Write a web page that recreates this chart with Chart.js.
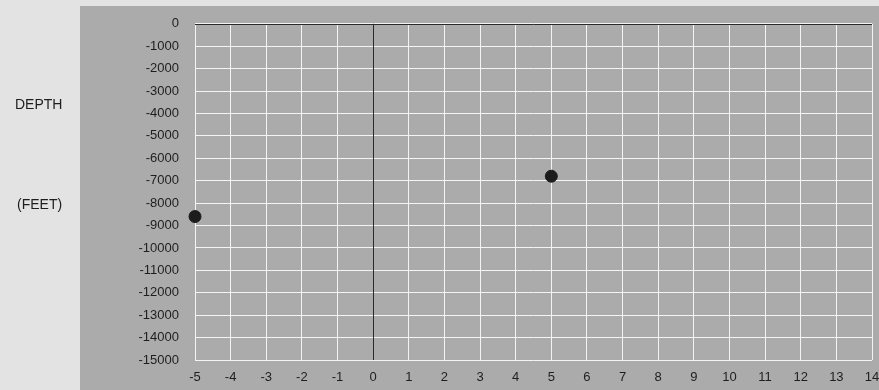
<!DOCTYPE html>
<html><head><meta charset="utf-8">
<script src="https://cdn.jsdelivr.net/npm/chart.js@4"></script>
<style>
html,body{margin:0;padding:0;background:#e3e3e3;}
#wrap{position:relative;width:879px;height:390px;}
canvas{position:absolute;left:0;top:0;}
.lab{position:absolute;font:14px "Liberation Sans",Arial,sans-serif;color:#1e1e1e;}
</style></head>
<body>
<div id="wrap">
<canvas id="c" width="879" height="390"></canvas>
<div class="lab" style="left:15px;top:96px;">DEPTH</div>
<div class="lab" style="left:17px;top:196px;">(FEET)</div>
</div>
<script>
const xValues = [-5, 5];
const depthValues = [-8600, -6800];
const xTickValues = [-5,-4,-3,-2,-1,0,1,2,3,4,5,6,7,8,9,10,11,12,13,14];
const yTickValues = [0,-1000,-2000,-3000,-4000,-5000,-6000,-7000,-8000,-9000,-10000,-11000,-12000,-13000,-14000,-15000];

const panelPlugin = {
  id: 'panel',
  beforeDraw(chart) {
    const ctx = chart.ctx;
    ctx.save();
    ctx.fillStyle = '#e3e3e3';
    ctx.fillRect(0, 0, chart.width, chart.height);
    ctx.fillStyle = '#ababab';
    ctx.fillRect(80, 6, chart.width - 80, chart.height - 6);
    ctx.restore();
  },
  beforeDatasetsDraw(chart) {
    const ctx = chart.ctx, a = chart.chartArea;
    const x0 = Math.round(chart.scales.x.getPixelForValue(0)) + 0.5;
    const y0 = Math.round(chart.scales.y.getPixelForValue(0)) + 0.5;
    ctx.save();
    ctx.strokeStyle = '#2a2a2a';
    ctx.lineWidth = 1;
    ctx.beginPath();
    ctx.moveTo(x0, a.top); ctx.lineTo(x0, a.bottom);
    ctx.moveTo(a.left, y0); ctx.lineTo(a.right, y0);
    ctx.stroke();
    ctx.restore();
  }
};

const gridOpts = { drawTicks: false, lineWidth: 1, color: '#f4f4f4' };

new Chart(document.getElementById('c'), {
  type: 'scatter',
  data: {
    datasets: [{
      data: xValues.map((x, i) => ({x: x, y: depthValues[i]})),
      backgroundColor: '#1c1c1c',
      borderColor: '#1c1c1c',
      pointRadius: 6,
      pointHoverRadius: 6,
      clip: false
    }]
  },
  plugins: [panelPlugin],
  options: {
    responsive: false,
    animation: false,
    events: [],
    layout: { padding: { left: 0, top: 20, right: 3, bottom: 0 } },
    plugins: { legend: { display: false }, tooltip: { enabled: false } },
    scales: {
      x: {
        type: 'linear', min: -5, max: 14,
        afterBuildTicks: s => { s.ticks = xTickValues.map(v => ({value: v})); },
        afterFit: s => { s.height = 30; s.paddingLeft = 0; s.paddingRight = 0; },
        border: { display: false },
        grid: gridOpts,
        ticks: {
          padding: 10, maxRotation: 0, autoSkip: false,
          color: '#1e1e1e', font: { family: '"Liberation Sans", Arial, sans-serif', size: 13 },
          callback: v => String(v)
        }
      },
      y: {
        type: 'linear', min: -15000, max: 0,
        afterBuildTicks: s => { s.ticks = yTickValues.map(v => ({value: v})); },
        afterFit: s => { s.width = 195; },
        border: { display: false },
        grid: gridOpts,
        ticks: {
          padding: 16, autoSkip: false,
          color: '#1e1e1e', font: { family: '"Liberation Sans", Arial, sans-serif', size: 13 },
          callback: v => String(v)
        }
      }
    }
  }
});
</script>
</body></html>
